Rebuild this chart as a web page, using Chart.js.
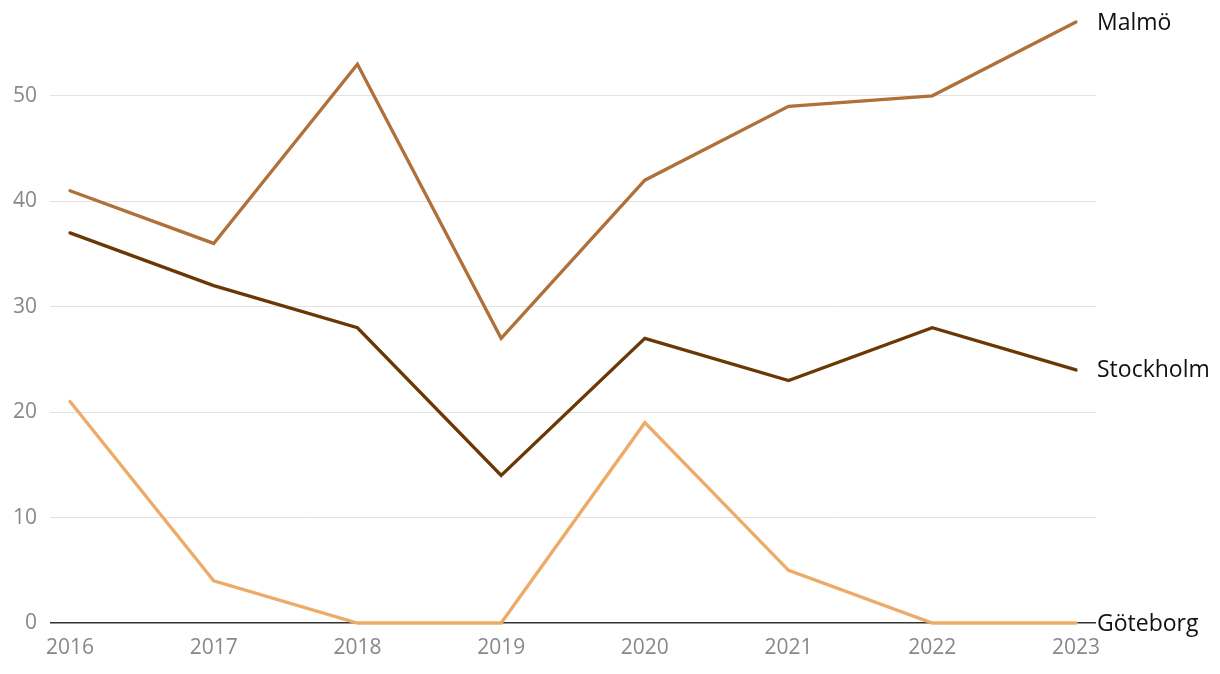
<!DOCTYPE html>
<html>
<head>
<meta charset="utf-8">
<script src="https://cdn.jsdelivr.net/npm/chart.js@4"></script>
<style>
  body { margin: 0; background: #fff; }
  #wrap { width: 1220px; height: 674px; }
</style>
</head>
<body>
<div id="wrap"><canvas id="myChart"></canvas></div>
<script>
const years = [2016, 2017, 2018, 2019, 2020, 2021, 2022, 2023]
const malmo = [41, 36, 53, 27, 42, 49, 50, 57]
const stockholm = [37, 32, 28, 14, 27, 23, 28, 24]
const goteborg = [21, 4, 0, 0, 19, 5, 0, 0]
const yTicks = [0, 10, 20, 30, 40, 50]

const FONT = '"Open Sans", "Noto Sans", sans-serif'

function points(values) {
    return values.map((v, i) => ({ x: years[i], y: v }))
}

// writes the series name next to the last point of each line
const endLabels = {
    id: 'endLabels',
    afterDatasetsDraw(chart) {
        const ctx = chart.ctx
        ctx.save()
        ctx.font = '23px ' + FONT
        ctx.fillStyle = '#111'
        ctx.textAlign = 'left'
        ctx.textBaseline = 'middle'
        chart.data.datasets.forEach((ds, i) => {
            const meta = chart.getDatasetMeta(i)
            const last = meta.data[meta.data.length - 1]
            ctx.fillText(ds.label, last.x + 21, last.y + 1)
        })
        ctx.restore()
    }
}

const ctx = document.getElementById('myChart').getContext('2d')
const myChart = new Chart(ctx, {
    type: 'line',
    data: {
        datasets: [
            { label: 'Malmö', data: points(malmo), borderColor: '#b0703a', clip: false },
            { label: 'Stockholm', data: points(stockholm), borderColor: '#6a3804', clip: false },
            { label: 'Göteborg', data: points(goteborg), borderColor: '#eeaa68', clip: false }
        ]
    },
    options: {
        responsive: true,
        maintainAspectRatio: false,
        animation: false,
        layout: { padding: { top: 22, right: 124, left: 0, bottom: 0 } },
        elements: {
            point: { radius: 0 },
            line: { borderWidth: 3.3, tension: 0, borderJoinStyle: 'miter', borderCapStyle: 'round' }
        },
        plugins: {
            legend: { display: false },
            tooltip: { enabled: false }
        },
        scales: {
            x: {
                type: 'linear',
                min: 2016 - 20 / 143.7,
                max: 2023 + 20 / 143.7,
                afterBuildTicks: (scale) => { scale.ticks = years.map(v => ({ value: v })) },
                afterFit: (scale) => { scale.height = 51 },
                grid: { display: false },
                border: { display: false },
                ticks: {
                    color: '#888',
                    font: { family: FONT, size: 21 },
                    padding: 4,
                    maxRotation: 0,
                    autoSkip: false,
                    callback: (v) => String(v)
                }
            },
            y: {
                min: 0,
                max: 57,
                afterBuildTicks: (scale) => { scale.ticks = yTicks.map(v => ({ value: v })) },
                afterFit: (scale) => { scale.width = 50 },
                border: { display: false },
                grid: {
                    drawTicks: true,
                    tickLength: 9,
                    tickColor: 'rgba(0,0,0,0)',
                    color: (c) => c.tick && c.tick.value === 0 ? '#333' : '#e2e2e2',
                    lineWidth: (c) => c.tick && c.tick.value === 0 ? 1.5 : 1
                },
                ticks: {
                    color: '#888',
                    font: { family: FONT, size: 21 },
                    padding: 4
                }
            }
        }
    },
    plugins: [endLabels]
})
</script>
</body>
</html>
